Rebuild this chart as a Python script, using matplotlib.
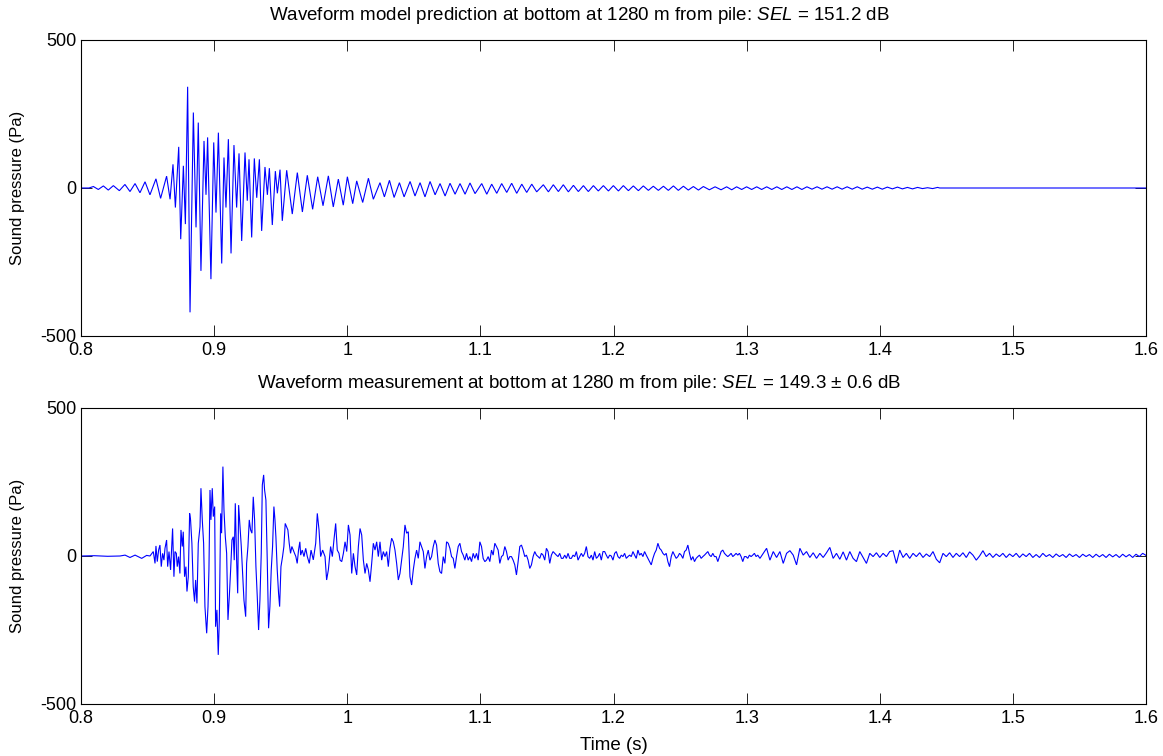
import numpy as np
import matplotlib
matplotlib.use("Agg")
import matplotlib.pyplot as plt

plt.rcParams['font.family'] = ['Liberation Sans', 'DejaVu Sans']
plt.rcParams['mathtext.fontset'] = 'custom'
plt.rcParams['mathtext.rm'] = 'Liberation Sans'
plt.rcParams['mathtext.it'] = 'Liberation Sans:italic'

# ---------------- data ----------------
# Model prediction: extrema of the waveform (time s, pressure Pa)
model_time = [
    0.8000, 0.8060, 0.8093, 0.8130, 0.8168, 0.8205, 0.8243, 0.8288, 0.8330, 0.8368,
    0.8406, 0.8443, 0.8481, 0.8518, 0.8563, 0.8598, 0.8643, 0.8669, 0.8691, 0.8709,
    0.8734, 0.8749, 0.8769, 0.8784, 0.8801, 0.8819, 0.8844, 0.8864, 0.8881, 0.8901,
    0.8924, 0.8939, 0.8951, 0.8976, 0.8997, 0.9014, 0.9032, 0.9057, 0.9074, 0.9089,
    0.9107, 0.9127, 0.9149, 0.9169, 0.9187, 0.9207, 0.9232, 0.9249, 0.9262, 0.9282,
    0.9302, 0.9320, 0.9340, 0.9357, 0.9382, 0.9400, 0.9415, 0.9437, 0.9460, 0.9475,
    0.9495, 0.9512, 0.9545, 0.9587, 0.9625, 0.9663, 0.9700, 0.9740, 0.9778, 0.9818,
    0.9858, 0.9895, 0.9933, 0.9970,
    1.0001, 1.0041, 1.0071, 1.0116, 1.0159, 1.0196, 1.0246, 1.0279, 1.0317, 1.0352,
    1.0392, 1.0427, 1.0472, 1.0509, 1.0547, 1.0584, 1.0622, 1.0660, 1.0697, 1.0735,
    1.0772, 1.0810, 1.0847, 1.0885, 1.0922, 1.0960, 1.1010, 1.1048, 1.1085, 1.1123,
    1.1160, 1.1198, 1.1235, 1.1273, 1.1311, 1.1348, 1.1386, 1.1423, 1.1473, 1.1511,
    1.1548, 1.1586, 1.1623, 1.1661, 1.1699, 1.1736, 1.1774, 1.1811, 1.1849, 1.1886,
    1.1924, 1.1962, 1.1999, 1.2037, 1.2074, 1.2112, 1.2149, 1.2187, 1.2224, 1.2262,
    1.2299, 1.2337, 1.2375, 1.2412, 1.2450, 1.2487, 1.2525, 1.2562, 1.2600, 1.2638,
    1.2675, 1.2720, 1.2763, 1.2808, 1.2850, 1.2888, 1.2925, 1.2963, 1.3000, 1.3038,
    1.3076, 1.3113, 1.3151, 1.3189, 1.3227, 1.3264, 1.3302, 1.3340, 1.3378, 1.3415,
    1.3453, 1.3491, 1.3529, 1.3566, 1.3604, 1.3642, 1.3680, 1.3717, 1.3755, 1.3793,
    1.3831, 1.3868, 1.3906, 1.3944, 1.3982, 1.4019, 1.4057, 1.4095, 1.4133, 1.4170,
    1.4208, 1.4246, 1.4284, 1.4321, 1.4359, 1.4397, 1.4435, 1.4450, 1.6000,
]
model_pressure = [
    0, 0, 5, -5, 7, -7, 8, -9, 12, -12,
    15, -16, 21, -23, 31, -35, 40, -38, 80, -66,
    139, -173, 75, -122, 342, -420, 255, -133, 221, -280,
    159, -23, 171, -308, 154, -83, 187, -255, 103, -66,
    165, -221, 145, -66, 117, -179, 120, -43, 97, -167,
    100, -33, 97, -145, 71, -23, 67, -125, 57, -18,
    62, -111, 60, -88, 52, -81, 43, -72, 38, -60,
    41, -64, 30, -58,
    38, -53, 24, -49, 33, -38, 18, -30, 26, -32,
    18, -30, 22, -27, 18, -30, 22, -23, 15, -27,
    16, -21, 15, -21, 17, -19, 15, -21, 13, -18,
    15, -15, 16, -18, 13, -15, 13, -13, 11, -13,
    11, -12, 11, -13, 9, -12, 8, -12, 8, -10,
    8, -10, 8, -10, 8, -9, 7, -9, 7, -8,
    6, -8, 6, -8, 7, -8, 6, -7, 5, -7,
    5, -6, 4, -6, 4, -6, 4, -5, 4, -5,
    4, -5, 4, -5, 4, -5, 4, -5, 4, -5,
    4, -4, 4, -4, 4, -4, 4, -4, 4, -4,
    4, -4, 3, -4, 3, -4, 3, -3, 3, -3,
    2, -3, 2, -2, 1, -2, 2, 0, 0,
]

# Measurement: onset and main burst (time s, pressure Pa)
meas_burst_time = [
    0.8000, 0.8100, 0.8200, 0.8293, 0.8331, 0.8368, 0.8406, 0.8456, 0.8493, 0.8518,
    0.8543, 0.8556, 0.8563, 0.8573, 0.8583, 0.8593, 0.8603, 0.8613, 0.8623, 0.8631,
    0.8643, 0.8651, 0.8661, 0.8673, 0.8683, 0.8688, 0.8698, 0.8706, 0.8716, 0.8723,
    0.8733, 0.8743, 0.8751, 0.8761, 0.8768, 0.8778, 0.8788, 0.8796, 0.8806, 0.8816,
    0.8823, 0.8833, 0.8843, 0.8853, 0.8861, 0.8871, 0.8881, 0.8894, 0.8901, 0.8911,
    0.8921, 0.8931, 0.8944, 0.8954, 0.8961, 0.8969, 0.8976, 0.8986, 0.8994, 0.9004,
    0.9011, 0.9021, 0.9031, 0.9039, 0.9049, 0.9056, 0.9066, 0.9074, 0.9084, 0.9094,
    0.9104, 0.9114, 0.9124, 0.9134, 0.9144, 0.9151, 0.9159, 0.9169, 0.9177, 0.9184,
    0.9194, 0.9204, 0.9214, 0.9224, 0.9237, 0.9244, 0.9254, 0.9264, 0.9274, 0.9284,
    0.9294, 0.9304, 0.9314, 0.9324, 0.9334, 0.9344, 0.9354, 0.9362, 0.9372, 0.9379,
    0.9389, 0.9399, 0.9409, 0.9419, 0.9429, 0.9439, 0.9449, 0.9457, 0.9464, 0.9474,
    0.9484, 0.9492, 0.9502, 0.9514, 0.9524, 0.9534, 0.9544, 0.9554, 0.9564, 0.9574,
    0.9584, 0.9594, 0.9604, 0.9614, 0.9624, 0.9634, 0.9644, 0.9650, 0.9662, 0.9675,
    0.9688, 0.9700, 0.9715, 0.9728, 0.9745, 0.9763, 0.9775, 0.9788, 0.9800, 0.9815,
    0.9833, 0.9845, 0.9858, 0.9875, 0.9888, 0.9900, 0.9913, 0.9925, 0.9938,
]
meas_burst_pressure = [
    0, 1, -1, 0, 3, -5, 3, -8, 2, 0,
    15, -25, 34, -19, 20, 37, -36, 9, -14, 26,
    54, -36, 15, -47, 48, 93, -70, 15, 9, -36,
    -2, -59, 88, 32, 82, -70, -36, -120, -70, 144,
    122, 43, -104, -154, -81, -160, 43, 99, 229, 122,
    43, -171, -261, -171, -47, 223, 122, 229, 133, 167,
    -239, -182, -334, -216, 144, 77, 302, 155, 65, 9,
    -216, -137, -47, 54, 65, -14, 178, -14, -126, 172,
    99, 32, -59, -149, -205, -25, 32, 122, 88, 77,
    200, 122, -36, -137, -250, -149, 9, 240, 274, 223,
    189, -14, -244, -171, -47, 32, 167, 122, 65, -47,
    -126, -171, -36, -2, 32, 110, 99, 88, 43, 9,
    32, 20, 9, -2, -25, 20, 48, 3, 20, -2,
    26, -2, -25, 20, -13, 43, 144, 88, -2, 20,
    -2, -81, -47, 32, -2, 54, 110, 20, 9,
]

# Measurement: coda sampled every 1.25 ms from 0.9946 s
coda1_start, coda1_step = 0.9946, 0.00125
meas_coda1_pressure = [
    -14, -19, 9, 48, 15, 105, 71, -59, 9, -36,
    -64, 32, 93, 71, -14, -59, -25, -47, -87, -25,
    43, 20, 48, -2, 48, -14, 15, -2, 15, -36,
    26, 60, 48, 20, -25, -81, -59, -14, 32, 105,
    77, 82, -70, -98, -47, -8, 20, -8, 48, 32,
    15, -42, -2, 20, -14, -2, 32, 54, 37, -25,
    -53, -59, -2, -25, 48, 43, 26, -2, -8, -42,
    -2, 32, 43, 15, 3, -14, 9, -14, -2, -19,
    9, -8, 9, -14, 48, 32, -8, -19, -14, -2,
    -19, 20, 3, 43, 32, 20, -25, -2, 3, 32,
    15, -14, -2, -2, -14, -30, -64, -19, 32, 37,
    20, -2, 3, -14, -42, -30, -2, 15, 3, -2,
    -8, 9, 3, -14, 26, 15, -25, 3, 15, 9,
    3, -2, 9, -8, -8, 3, -8, 9, -8, -8,
    3, -2, 15, -14, -2, 9, -2, 9, 32, -2,
    -8, 3, -14, 15, -8, -2, 9, -14, 15, 15,
    3, -8, 3, 0, -14, 9, 15, -2, -8, 3,
    -2, 9, -8, -2, 3, -2, 15, 3, -8, 20,
    3, 9, -2, 15, 3, -8, -19, -30, -8, 9,
    20, 43, 26, 20, 9, 3, 9, -19, -36, -2,
    15, 3, -8, -2, 9, 3, -8, 15, 20, 37,
    9, -14, -2, -19, -8, -2, 3, -8, -2, 3,
    9, 15, 3, -2, 9, -2, -2, -19, -2, 15,
    20, 9, 3, -2, 3, 9, -2, 3, 9, 3,
    9, -2, -19, -2, -2, -8, 3, -2, 3, 9,
    -2, 3,
]

# Measurement: late coda sampled every 2.5 ms from 1.31 s to 1.6 s
coda2_start, coda2_end = 1.31, 1.60
meas_coda2_pressure = [
    -8, 9, 26, -14, 15, -5, 15, -25, 9, 18,
    3, -30, 26, 3, 15, -5, 11, -8, 9, -5,
    11, 29, -8, 9, -11, 14, -14, 15, -8, -19,
    15, -5, -25, 9, -2, 11, -5, 9, -2, 15,
    18, -25, 20, -5, 9, -8, 9, -2, 11, -5,
    7, -2, 15, -11, -23, 9, -2, 11, -5, 9,
    -2, 11, -5, 14, 3, -14, 0, 18, -2, 9,
    -5, 7, -2, 9, -5, 7, -2, 9, -5, 7,
    -2, 9, -5, 5, -5, 9, -2, 5, -5, 7,
    -2, 5, -5, 7, -2, 5, -5, 6, -2, 5,
    -5, 6, -3, 5, -5, 6, -3, 5, -5, 6,
    -3, 5, -5, 6, -2, 9, 2,
]

x_ticks = [0.8, 0.9, 1.0, 1.1, 1.2, 1.3, 1.4, 1.5, 1.6]
x_tick_labels = ['0.8', '0.9', '1', '1.1', '1.2', '1.3', '1.4', '1.5', '1.6']
y_ticks = [-500, 0, 500]
y_tick_labels = ['-500', '0', '500']

title_top = r'Waveform model prediction at bottom at 1280 m from pile: $\mathit{SEL}$ = 151.2 dB'
title_bottom = r'Waveform measurement at bottom at 1280 m from pile: $\mathit{SEL}$ = 149.3 ± 0.6 dB'
y_label = 'Sound pressure (Pa)'
x_label = 'Time (s)'

# ---------------- assemble measurement series ----------------
coda1_time = coda1_start + coda1_step * np.arange(len(meas_coda1_pressure))
coda2_time = np.linspace(coda2_start, coda2_end, len(meas_coda2_pressure))
meas_time = np.concatenate([meas_burst_time, coda1_time, coda2_time])
meas_pressure = np.concatenate([meas_burst_pressure, meas_coda1_pressure, meas_coda2_pressure])

# ---------------- figure ----------------
W, H = 1163, 756
fig = plt.figure(figsize=(W / 100, H / 100), dpi=100)
ax_left, ax_w, ax_h = 81 / W, 1065 / W, 296 / H
ax1 = fig.add_axes([ax_left, 1 - 336 / H, ax_w, ax_h])
ax2 = fig.add_axes([ax_left, 1 - 704 / H, ax_w, ax_h])

FS_TICK = 13
FS_YLAB = 12
FS_TITLE = 13.5
FS_XLAB = 13.5
line_color = (0, 0, 1)

for ax, t, p, ttl in [(ax1, model_time, model_pressure, title_top),
                      (ax2, meas_time, meas_pressure, title_bottom)]:
    ax.plot(t, p, color=line_color, lw=0.8, solid_joinstyle='miter')
    ax.set_xlim(0.8, 1.6)
    ax.set_ylim(-500, 500)
    ax.set_xticks(x_ticks)
    ax.set_xticklabels(x_tick_labels)
    ax.set_yticks(y_ticks)
    ax.set_yticklabels(y_tick_labels)
    ax.tick_params(direction='in', length=7.6, width=0.6, top=True, right=True,
                   labelsize=FS_TICK, colors='black')
    ax.tick_params(axis='x', pad=4)
    ax.tick_params(axis='y', pad=3)
    for s in ax.spines.values():
        s.set_linewidth(0.8)
        s.set_color('black')
    ax.set_ylabel(y_label, fontsize=FS_YLAB, va='center')
    ax.yaxis.set_label_coords((18 - 81) / 1065, 0.5)
    ax.text(0.468, 1 + 24 / 296, ttl, transform=ax.transAxes, ha='center',
            va='center', fontsize=FS_TITLE)

fig.text(613.5 / W, 1 - 745 / H, x_label, ha='center', va='center', fontsize=FS_XLAB)

fig.savefig('out.png', dpi=100, facecolor='white')
